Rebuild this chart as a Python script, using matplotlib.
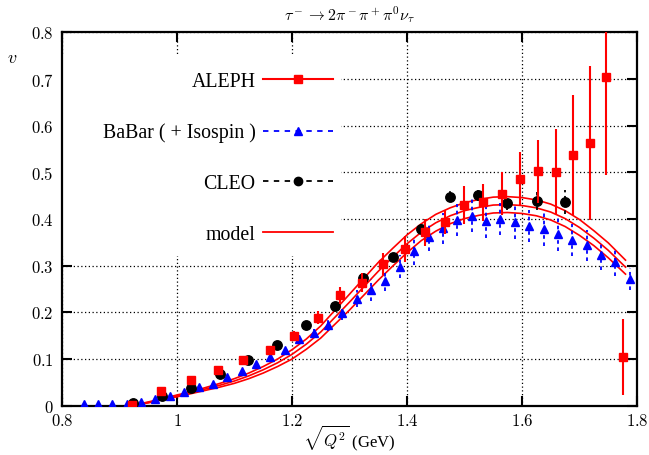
import numpy as np
import matplotlib
matplotlib.use("Agg")
import matplotlib.pyplot as plt
from matplotlib.lines import Line2D
from matplotlib.patches import Rectangle
from matplotlib.ticker import FuncFormatter, MultipleLocator

plt.rcParams["mathtext.fontset"] = "cm"
plt.rcParams["font.family"] = ["Liberation Serif", "DejaVu Serif"]

# ALEPH (red squares)
aleph_x = [0.921, 0.973, 1.024, 1.072, 1.115, 1.162, 1.204, 1.245, 1.283, 1.321, 1.359, 1.397,
           1.431, 1.466, 1.499, 1.532, 1.565, 1.597, 1.627, 1.659, 1.688, 1.718, 1.746, 1.775]
aleph_y = [0.002, 0.032, 0.055, 0.077, 0.098, 0.119, 0.149, 0.189, 0.237, 0.264, 0.304, 0.336,
           0.372, 0.393, 0.430, 0.436, 0.454, 0.486, 0.502, 0.500, 0.537, 0.562, 0.704, 0.104]
aleph_err = [0.004, 0.006, 0.007, 0.008, 0.008, 0.010, 0.011, 0.014, 0.018, 0.020, 0.024, 0.028,
             0.029, 0.026, 0.040, 0.040, 0.046, 0.057, 0.068, 0.092, 0.128, 0.165, 0.210, 0.082]

# BaBar (+ isospin) (blue triangles)
babar_x = [0.8375, 0.8625, 0.8875, 0.9125, 0.9375, 0.9625, 0.9875, 1.0125, 1.0375, 1.0625,
           1.0875, 1.1125, 1.1375, 1.1625, 1.1875, 1.2125, 1.2375, 1.2625, 1.2875, 1.3125,
           1.3375, 1.3625, 1.3875, 1.4125, 1.4375, 1.4625, 1.4875, 1.5125, 1.5375, 1.5625,
           1.5875, 1.6125, 1.6375, 1.6625, 1.6875, 1.7125, 1.7375, 1.7625, 1.7875]
babar_y = [0.004, 0.004, 0.004, 0.004, 0.008, 0.015, 0.020, 0.029, 0.041, 0.047,
           0.062, 0.074, 0.089, 0.105, 0.120, 0.143, 0.155, 0.173, 0.198, 0.229,
           0.248, 0.267, 0.298, 0.332, 0.362, 0.380, 0.398, 0.407, 0.395, 0.400,
           0.393, 0.385, 0.378, 0.367, 0.355, 0.344, 0.322, 0.309, 0.272]
babar_err = [0.002, 0.002, 0.002, 0.002, 0.002, 0.003, 0.003, 0.003, 0.004, 0.004,
             0.005, 0.005, 0.006, 0.007, 0.008, 0.009, 0.010, 0.012, 0.014, 0.018,
             0.024, 0.022, 0.025, 0.030, 0.030, 0.033, 0.035, 0.035, 0.035, 0.035,
             0.035, 0.035, 0.035, 0.035, 0.035, 0.033, 0.032, 0.030, 0.024]

# CLEO (black circles)
cleo_x = [0.924, 0.974, 1.024, 1.075, 1.124, 1.174, 1.224, 1.274, 1.324, 1.375, 1.424, 1.475,
          1.524, 1.574, 1.626, 1.675]
cleo_y = [0.005, 0.021, 0.039, 0.069, 0.098, 0.131, 0.173, 0.214, 0.273, 0.319, 0.379, 0.448,
          0.451, 0.434, 0.439, 0.436]
cleo_err = [0.003, 0.003, 0.004, 0.004, 0.005, 0.005, 0.006, 0.007, 0.008, 0.009, 0.010, 0.012,
            0.013, 0.015, 0.019, 0.026]

# model: central curve and half-width of the band
model_x = [0.92, 0.95, 0.975, 1.0, 1.025, 1.05, 1.075, 1.1, 1.125, 1.15, 1.175, 1.2, 1.225,
           1.25, 1.275, 1.3, 1.325, 1.35, 1.375, 1.4, 1.425, 1.45, 1.475, 1.5, 1.525, 1.55,
           1.575, 1.6, 1.625, 1.65, 1.675, 1.7, 1.725, 1.75, 1.78]
model_mid = [0.0, 0.007, 0.014, 0.021, 0.028, 0.036, 0.044, 0.053, 0.064, 0.077, 0.092, 0.110,
             0.132, 0.158, 0.190, 0.222, 0.255, 0.288, 0.318, 0.347, 0.372, 0.392, 0.407, 0.418,
             0.425, 0.430, 0.431, 0.429, 0.424, 0.415, 0.401, 0.382, 0.359, 0.333, 0.297]
model_band = [0.0, 0.001, 0.001, 0.002, 0.002, 0.003, 0.004, 0.005, 0.006, 0.007, 0.008, 0.010,
              0.011, 0.013, 0.015, 0.017, 0.018, 0.019, 0.019, 0.019, 0.018, 0.018, 0.017, 0.017,
              0.017, 0.017, 0.017, 0.017, 0.017, 0.017, 0.017, 0.017, 0.016, 0.016, 0.015]

x_ticks = [0.8, 1.0, 1.2, 1.4, 1.6, 1.8]

fig = plt.figure(figsize=(6.49, 4.56), dpi=100)
ax = fig.add_axes([62 / 649, 1 - 406.7 / 456, 575 / 649, 373.3 / 456])

mid = np.array(model_mid)
band = np.array(model_band)
for curve in (mid + band, mid, mid - band):
    ax.plot(model_x, curve, color="red", lw=1.2, zorder=3)

dots = (0, (2, 2))
eb = ax.errorbar(babar_x, babar_y, yerr=babar_err, fmt="^", color="blue", ms=6.3,
                 elinewidth=1.3, capsize=0, zorder=4)
eb[2][0].set_linestyle(dots)
eb = ax.errorbar(cleo_x, cleo_y, yerr=cleo_err, fmt="o", color="black", ms=6.8,
                 elinewidth=1.3, capsize=0, zorder=5)
eb[2][0].set_linestyle(dots)
ax.errorbar(aleph_x, aleph_y, yerr=aleph_err, fmt="s", color="red", ms=6.3,
            elinewidth=1.5, capsize=0, zorder=6)

ax.set_xlim(0.8, 1.8)
ax.set_ylim(0, 0.8)
ax.set_xticks(x_ticks)
ax.yaxis.set_major_locator(MultipleLocator(0.1))
fmt = FuncFormatter(lambda v, p: f"${v:g}$")
ax.xaxis.set_major_formatter(fmt)
ax.yaxis.set_major_formatter(fmt)
ax.tick_params(direction="in", length=7, width=1.5, top=True, right=True, labelsize=12, pad=6)
ax.tick_params(axis="x", pad=5)
for s in ax.spines.values():
    s.set_linewidth(1.6)
ax.grid(True, color="black", lw=0.9, linestyle=(0, (1, 2)))
ax.set_axisbelow(True)

ax.set_title(r"$\tau^- \to 2\pi^-\pi^+\pi^0\nu_\tau$", fontsize=11.5, pad=9)
ax.set_xlabel(r"$\sqrt{Q^2}$ (GeV)", fontsize=12, labelpad=-4)
ax.set_ylabel(r"$v$", rotation=0, fontsize=13)
ax.yaxis.set_label_coords(-0.087, 0.91)

# white block behind the key, hiding the grid
ax.add_patch(Rectangle((0, 0.401), 0.485, 0.541, transform=ax.transAxes,
                       facecolor="white", edgecolor="none", zorder=2))

handles = [
    Line2D([], [], color="red", lw=1.5, marker="s", ms=6),
    Line2D([], [], color="blue", lw=1.3, linestyle=(0, (3, 3)), marker="^", ms=6),
    Line2D([], [], color="black", lw=1.3, linestyle=(0, (3, 3)), marker="o", ms=6),
    Line2D([], [], color="red", lw=1.3),
]
labels = ["ALEPH", "BaBar ( + Isospin )", "CLEO", "model"]
ax.legend(handles, labels, loc="upper right", bbox_to_anchor=(0.4713, 0.894),
          frameon=False, markerfirst=False, fontsize=14.3, handlelength=3.5,
          handletextpad=0.4, labelspacing=1.6, borderpad=0, borderaxespad=0)

fig.savefig("out.png", dpi=100)
